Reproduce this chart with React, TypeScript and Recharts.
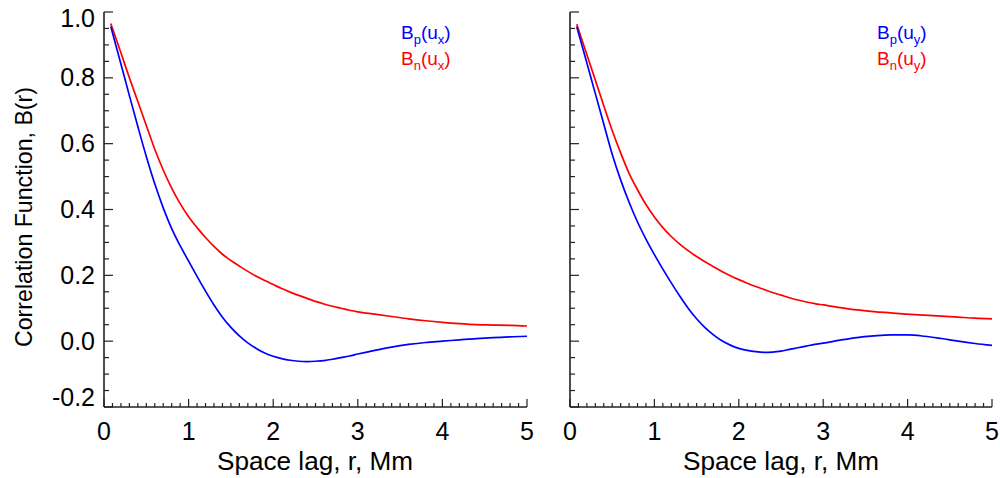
import React from 'react';
import { LineChart, Line, XAxis, YAxis } from 'recharts';

const rValues = [0.08, 0.2, 0.3, 0.4, 0.5, 0.6, 0.7, 0.8, 0.9, 1.0, 1.1, 1.2, 1.3, 1.4, 1.5, 1.6, 1.7, 1.8, 1.9, 2.0, 2.1, 2.2, 2.3, 2.4, 2.5, 2.6, 2.7, 2.8, 2.9, 3.0, 3.2, 3.4, 3.6, 3.8, 4.0, 4.2, 4.4, 4.6, 4.8, 5.0];

const leftBp = [0.956, 0.842, 0.746, 0.652, 0.561, 0.478, 0.405, 0.342, 0.29, 0.243, 0.197, 0.152, 0.11, 0.073, 0.042, 0.016, -0.005, -0.022, -0.036, -0.046, -0.053, -0.058, -0.061, -0.062, -0.061, -0.059, -0.055, -0.05, -0.045, -0.039, -0.028, -0.018, -0.01, -0.004, 0.0, 0.004, 0.008, 0.011, 0.013, 0.015];
const leftBn = [0.965, 0.876, 0.8, 0.728, 0.655, 0.583, 0.52, 0.465, 0.418, 0.378, 0.345, 0.315, 0.288, 0.264, 0.245, 0.228, 0.212, 0.197, 0.184, 0.172, 0.16, 0.149, 0.139, 0.13, 0.121, 0.113, 0.106, 0.1, 0.094, 0.089, 0.082, 0.075, 0.068, 0.062, 0.057, 0.053, 0.05, 0.049, 0.048, 0.046];

const rightBp = [0.955, 0.845, 0.752, 0.66, 0.568, 0.49, 0.422, 0.362, 0.31, 0.263, 0.219, 0.177, 0.137, 0.1, 0.068, 0.041, 0.019, 0.001, -0.012, -0.022, -0.028, -0.032, -0.034, -0.033, -0.03, -0.025, -0.02, -0.015, -0.01, -0.006, 0.003, 0.011, 0.016, 0.019, 0.019, 0.015, 0.008, 0.0, -0.007, -0.013];
const rightBn = [0.963, 0.87, 0.793, 0.715, 0.64, 0.572, 0.51, 0.46, 0.415, 0.377, 0.345, 0.318, 0.295, 0.275, 0.257, 0.241, 0.226, 0.212, 0.199, 0.187, 0.176, 0.166, 0.157, 0.148, 0.14, 0.132, 0.125, 0.119, 0.114, 0.11, 0.102, 0.095, 0.09, 0.086, 0.082, 0.079, 0.076, 0.073, 0.07, 0.068];

const xMajorTicks = [0, 1, 2, 3, 4, 5];
const xTickLabels = ['0', '1', '2', '3', '4', '5'];
const yMajorTicks = [-0.2, 0, 0.2, 0.4, 0.6, 0.8, 1.0];
const yTickLabels = ['-0.2', '0.0', '0.2', '0.4', '0.6', '0.8', '1.0'];

const xAllTicks = Array.from({ length: 51 }, (_, i) => i / 10);
const yAllTicks = Array.from({ length: 25 }, (_, i) => -0.2 + i * 0.05);

const leftData = rValues.map((r, i) => ({ r, bp: leftBp[i], bn: leftBn[i] }));
const rightData = rValues.map((r, i) => ({ r, bp: rightBp[i], bn: rightBn[i] }));

const FONT = '"Liberation Sans", Arial, Helvetica, sans-serif';
const AXIS_COLOR = '#222';
const near = (a: number, b: number) => Math.abs(a - b) < 1e-6;

function makeXTick(side: 'bottom' | 'top', showLabels: boolean) {
  return (props: any) => {
    const { x, y, payload } = props;
    const v = payload.value;
    const idx = xMajorTicks.findIndex((m) => near(m, v));
    const major = idx >= 0;
    const len = major ? 8 : 4;
    const dir = side === 'bottom' ? -1 : 1;
    return (
      <g>
        <line x1={x} x2={x} y1={y} y2={y + dir * len} stroke={AXIS_COLOR} strokeWidth={1.2} />
        {showLabels && major && (
          <text x={x} y={y + 33} textAnchor="middle" fontSize={25} fill="#000" fontFamily={FONT}>
            {xTickLabels[idx]}
          </text>
        )}
      </g>
    );
  };
}

function makeYTick(side: 'left' | 'right', showLabels: boolean) {
  return (props: any) => {
    const { x, y, payload } = props;
    const v = payload.value;
    const idx = yMajorTicks.findIndex((m) => near(m, v));
    const major = idx >= 0;
    const len = major ? 9 : 5;
    const dir = side === 'left' ? 1 : -1;
    let dy = 8.5;
    if (idx === yMajorTicks.length - 1) dy = 14.5;
    if (idx === 0) dy = -1.5;
    return (
      <g>
        <line x1={x} x2={x + dir * len} y1={y} y2={y} stroke={AXIS_COLOR} strokeWidth={1.2} />
        {showLabels && major && (
          <text x={x - 9} y={y + dy} textAnchor="end" fontSize={25} fill="#000" fontFamily={FONT}>
            {yTickLabels[idx]}
          </text>
        )}
      </g>
    );
  };
}

const axisLine = { stroke: AXIS_COLOR, strokeWidth: 1.6 };

function Panel({ data, width, leftW, rightM, showYLabels }: any) {
  return (
    <LineChart width={width} height={478} data={data} margin={{ top: 12, right: rightM, bottom: 0, left: 0 }}>
      <XAxis xAxisId="b" dataKey="r" type="number" domain={[0, 5]} allowDataOverflow ticks={xAllTicks} interval={0}
        tickSize={0} tickMargin={0} tickLine={false} axisLine={axisLine} tick={makeXTick('bottom', true)} height={71} />
      <XAxis xAxisId="t" orientation="top" dataKey="r" type="number" domain={[0, 5]} allowDataOverflow ticks={xAllTicks} interval={0}
        tickSize={0} tickMargin={0} tickLine={false} axisLine={axisLine} tick={makeXTick('top', false)} height={0} />
      <YAxis yAxisId="l" type="number" domain={[-0.2, 1.0]} allowDataOverflow ticks={yAllTicks} interval={0}
        tickSize={0} tickMargin={0} tickLine={false} axisLine={axisLine} tick={makeYTick('left', showYLabels)} width={leftW} />
      <YAxis yAxisId="r" orientation="right" type="number" domain={[-0.2, 1.0]} allowDataOverflow ticks={yAllTicks} interval={0}
        tickSize={0} tickMargin={0} tickLine={false} axisLine={axisLine} tick={makeYTick('right', false)} width={0} />
      <Line xAxisId="b" yAxisId="l" type="monotone" dataKey="bn" stroke="#ff0000" strokeWidth={1.7} dot={false} isAnimationActive={false} />
      <Line xAxisId="b" yAxisId="l" type="monotone" dataKey="bp" stroke="#0000ff" strokeWidth={1.7} dot={false} isAnimationActive={false} />
    </LineChart>
  );
}

function LegendLabel({ x, y, color, sub1, sub2 }: any) {
  return (
    <text x={x} y={y} fill={color} fontSize={19} fontFamily={FONT}>
      B
      <tspan fontSize={13} dy={5}>{sub1}</tspan>
      <tspan dy={-5}>(u</tspan>
      <tspan fontSize={13} dy={5}>{sub2}</tspan>
      <tspan dy={-5}>)</tspan>
    </text>
  );
}

export default function App() {
  return (
    <div style={{ position: 'absolute', left: 0, top: 0, width: 1000, height: 478, background: '#fff' }}>
      <div style={{ position: 'absolute', left: 0, top: 0 }}>
        <Panel data={leftData} width={540} leftW={104} rightM={13} showYLabels={true} />
      </div>
      <div style={{ position: 'absolute', left: 540, top: 0 }}>
        <Panel data={rightData} width={460} leftW={30} rightM={8} showYLabels={false} />
      </div>
      <svg width={1000} height={478} style={{ position: 'absolute', left: 0, top: 0, pointerEvents: 'none' }}>
        <text transform="translate(32,217) rotate(-90)" textAnchor="middle" fontSize={24} fontFamily={FONT} fill="#000"
          textLength={260} lengthAdjust="spacingAndGlyphs">
          Correlation Function, B(r)
        </text>
        <text x={315} y={470} textAnchor="middle" fontSize={25} fontFamily={FONT} fill="#000" textLength={196} lengthAdjust="spacingAndGlyphs">
          Space lag, r, Mm
        </text>
        <text x={781} y={470} textAnchor="middle" fontSize={25} fontFamily={FONT} fill="#000" textLength={196} lengthAdjust="spacingAndGlyphs">
          Space lag, r, Mm
        </text>
        <LegendLabel x={401} y={39} color="#0000ff" sub1="p" sub2="x" />
        <LegendLabel x={401} y={65} color="#ff0000" sub1="n" sub2="x" />
        <LegendLabel x={877} y={39} color="#0000ff" sub1="p" sub2="y" />
        <LegendLabel x={877} y={65} color="#ff0000" sub1="n" sub2="y" />
      </svg>
    </div>
  );
}
